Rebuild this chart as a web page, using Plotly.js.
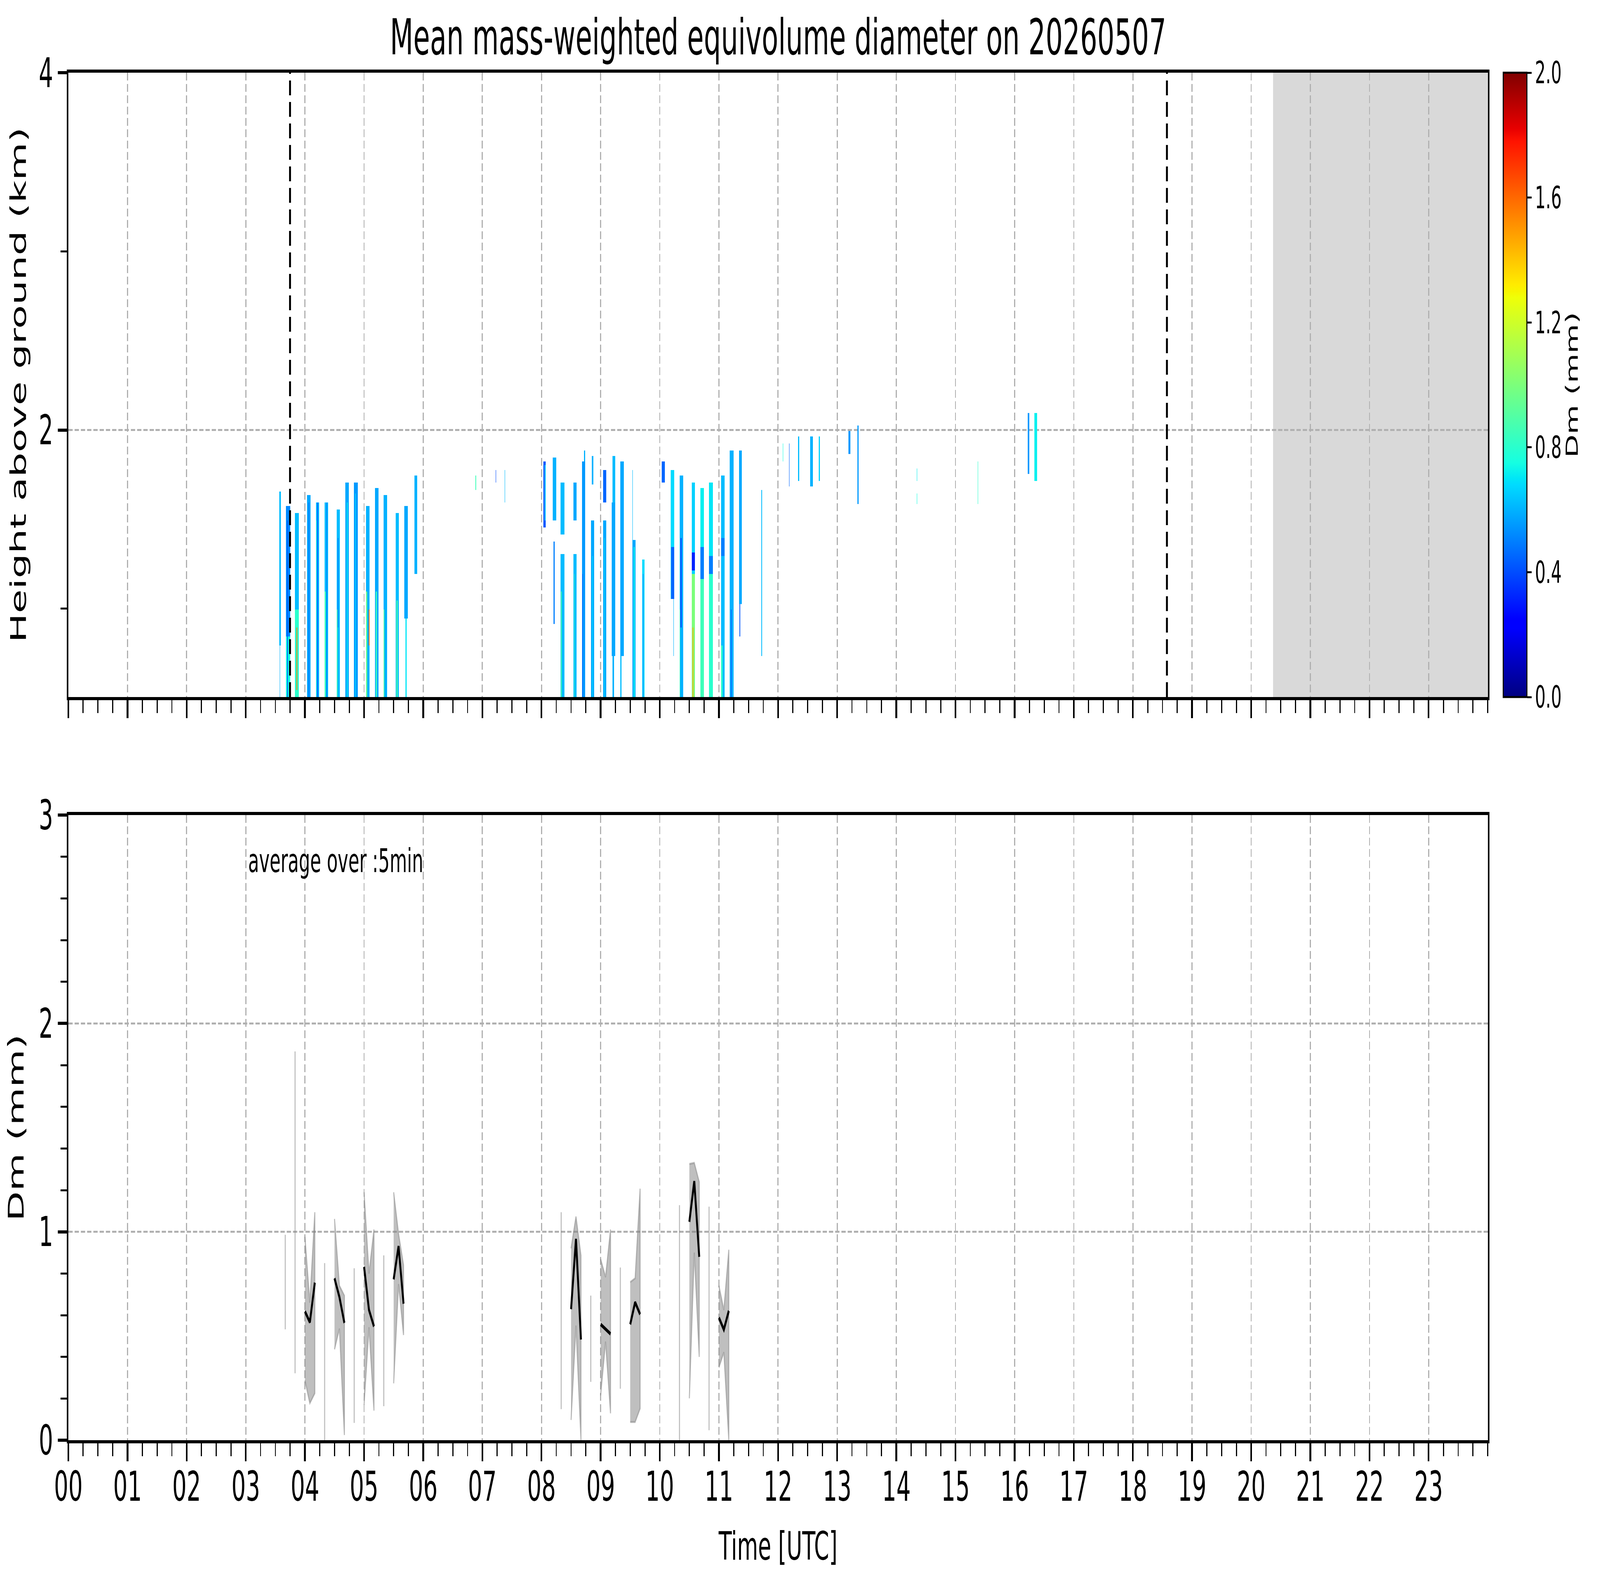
<!DOCTYPE html>
<html>
<head>
<meta charset="utf-8">
<script src="https://cdn.plot.ly/plotly-3.0.1.min.js"></script>
<style>
  html, body { margin: 0; padding: 0; background: #fff; overflow: hidden; }
  #chart { width: 7442px; height: 4031px; transform-origin: 0 0; }
</style>
</head>
<body>
<div id="chart"></div>
<script>
// ── Data ──────────────────────────────────────────────────────────────────────
const hourLabels = ['00', '01', '02', '03', '04', '05', '06', '07', '08', '09', '10', '11',
                    '12', '13', '14', '15', '16', '17', '18', '19', '20', '21', '22', '23'];
const hourTicks = [0, 1, 2, 3, 4, 5, 6, 7, 8, 9, 10, 11, 12, 13, 14, 15, 16, 17, 18, 19, 20, 21, 22, 23];

// dashed markers (hours UTC) and the no-data period
const markerTimes = [3.748, 18.575];
const noDataStart = 20.37;
const dayEnd = 24;

// radar Dm cells: [start h, end h, bottom km, top km, Dm mm]
const radarSegments = [
  [3.565, 3.590, 0.80, 1.66, 0.62], [3.570, 3.580, 0.505, 0.80, 0.60],
  [3.680, 3.750, 0.85, 1.57, 0.52], [3.680, 3.750, 0.505, 0.85, 0.75], [3.700, 3.710, 0.505, 1.50, 0.42],
  [3.830, 3.895, 1.00, 1.53, 0.62], [3.830, 3.895, 0.505, 1.00, 0.80], [3.862, 3.868, 0.55, 0.90, 1.55],
  [4.034, 4.094, 0.505, 1.64, 0.58], [4.060, 4.070, 0.505, 1.60, 0.40],
  [4.183, 4.242, 0.505, 1.60, 0.62], [4.183, 4.195, 0.505, 1.50, 0.80], [4.210, 4.220, 0.505, 1.60, 0.42],
  [4.334, 4.391, 0.505, 1.60, 0.62], [4.334, 4.350, 0.505, 1.10, 0.85], [4.365, 4.372, 0.505, 1.60, 0.40],
  [4.537, 4.591, 0.505, 1.55, 0.62], [4.537, 4.550, 0.505, 1.00, 0.85], [4.555, 4.565, 0.90, 1.40, 0.40],
  [4.685, 4.744, 0.505, 1.71, 0.58], [4.710, 4.720, 0.505, 1.60, 0.72],
  [4.831, 4.894, 0.505, 1.71, 0.55], [4.845, 4.860, 0.505, 1.65, 0.66],
  [5.032, 5.094, 0.505, 1.57, 0.60], [5.032, 5.050, 0.505, 1.10, 0.95], [5.080, 5.090, 0.80, 1.00, 1.60],
  [5.183, 5.243, 0.505, 1.68, 0.58], [5.200, 5.215, 0.505, 1.10, 0.85],
  [5.332, 5.389, 0.505, 1.64, 0.60], [5.332, 5.345, 0.505, 1.00, 0.90],
  [5.537, 5.592, 0.505, 1.53, 0.62], [5.550, 5.570, 0.505, 1.05, 0.88],
  [5.682, 5.742, 0.95, 1.57, 0.58], [5.700, 5.720, 0.505, 0.95, 0.70],
  [5.857, 5.893, 1.20, 1.75, 0.60],
  [6.880, 6.895, 1.67, 1.75, 0.85],
  [7.225, 7.235, 1.71, 1.78, 0.40],
  [7.375, 7.385, 1.60, 1.78, 0.62],
  [8.030, 8.070, 1.46, 1.82, 0.42], [8.050, 8.070, 1.50, 1.80, 0.62],
  [8.190, 8.250, 1.50, 1.85, 0.60], [8.200, 8.220, 0.92, 1.38, 0.50],
  [8.320, 8.390, 1.42, 1.71, 0.62], [8.320, 8.390, 0.505, 1.31, 0.62], [8.330, 8.345, 0.505, 1.10, 0.90],
  [8.540, 8.590, 1.50, 1.71, 0.58], [8.540, 8.590, 0.505, 1.31, 0.62], [8.550, 8.560, 0.505, 1.20, 0.85],
  [8.683, 8.742, 0.505, 1.82, 0.55], [8.720, 8.742, 1.82, 1.89, 0.60], [8.690, 8.700, 0.505, 1.20, 0.40],
  [8.850, 8.875, 1.70, 1.855, 0.60], [8.835, 8.890, 0.505, 1.50, 0.58], [8.860, 8.870, 0.505, 1.30, 0.66],
  [9.040, 9.095, 1.60, 1.78, 0.45], [9.040, 9.095, 0.505, 1.50, 0.58], [9.060, 9.070, 0.505, 1.40, 0.72],
  [9.200, 9.243, 1.59, 1.855, 0.62], [9.186, 9.243, 0.74, 1.59, 0.58], [9.200, 9.225, 0.505, 0.74, 0.60],
  [9.336, 9.391, 0.74, 1.82, 0.58], [9.336, 9.350, 0.505, 0.74, 0.62],
  [9.536, 9.592, 0.505, 1.39, 0.58], [9.560, 9.575, 0.505, 1.35, 0.72], [9.536, 9.545, 1.39, 1.78, 0.62],
  [9.703, 9.746, 0.505, 1.28, 0.68], [9.715, 9.725, 0.505, 1.20, 0.45],
  [10.037, 10.083, 1.71, 1.82, 0.45],
  [10.185, 10.245, 1.06, 1.78, 0.68], [10.190, 10.245, 1.06, 1.35, 0.45], [10.230, 10.240, 0.74, 1.06, 0.60],
  [10.334, 10.393, 0.505, 1.75, 0.60], [10.350, 10.370, 0.90, 1.40, 0.40], [10.334, 10.345, 0.505, 1.00, 0.85],
  [10.538, 10.594, 1.20, 1.71, 0.66], [10.538, 10.594, 0.505, 1.20, 1.00], [10.538, 10.594, 1.22, 1.32, 0.32],
  [10.555, 10.565, 0.505, 0.90, 1.45],
  [10.686, 10.746, 1.35, 1.675, 0.72], [10.686, 10.746, 1.17, 1.35, 0.50], [10.686, 10.746, 0.505, 1.17, 0.85],
  [10.831, 10.894, 1.30, 1.71, 0.70], [10.831, 10.894, 1.20, 1.30, 0.50], [10.831, 10.894, 0.505, 1.20, 0.80],
  [11.035, 11.095, 0.505, 1.75, 0.62], [11.035, 11.060, 0.505, 0.80, 0.80], [11.035, 11.095, 1.30, 1.40, 0.50],
  [11.184, 11.247, 0.505, 1.89, 0.60], [11.200, 11.215, 0.505, 1.00, 0.45],
  [11.341, 11.391, 1.03, 1.89, 0.58], [11.345, 11.360, 0.85, 1.03, 0.42],
  [11.715, 11.730, 0.74, 1.67, 0.62],
  [12.080, 12.090, 1.825, 1.93, 0.75],
  [12.185, 12.195, 1.69, 1.93, 0.45],
  [12.335, 12.360, 1.72, 1.965, 0.62],
  [12.540, 12.590, 1.69, 1.965, 0.60],
  [12.690, 12.710, 1.72, 1.965, 0.66],
  [13.190, 13.220, 1.86, 1.995, 0.55],
  [13.340, 13.360, 1.585, 2.03, 0.55],
  [14.345, 14.355, 1.72, 1.79, 0.72], [14.345, 14.355, 1.585, 1.65, 0.75],
  [15.375, 15.385, 1.585, 1.825, 0.80],
  [16.225, 16.245, 1.755, 2.10, 0.55],
  [16.335, 16.380, 1.72, 2.10, 0.72],
];

// 5-min averaged Dm at the ground (hours UTC, mm)
const dmTime = [3.667, 3.833, 4.000, 4.083, 4.167, 4.333, 4.500, 4.583, 4.667, 4.833,
                5.000, 5.083, 5.167, 5.333, 5.500, 5.583, 5.667, 8.333, 8.500, 8.583,
                8.667, 8.833, 9.000, 9.083, 9.167, 9.333, 9.500, 9.583, 9.667, 10.333,
                10.500, 10.583, 10.667, 10.833, 11.000, 11.083, 11.167];
const dmMean = [0.75, 0.90, 0.618, 0.566, 0.756, 0.45, 0.777, 0.687, 0.563, 0.45,
                0.832, 0.625, 0.546, 0.50, 0.772, 0.931, 0.655, 0.60, 0.629, 0.966,
                0.483, 0.48, 0.556, 0.535, 0.510, 0.52, 0.556, 0.662, 0.604, 0.55,
                1.048, 1.243, 0.880, 0.55, 0.588, 0.531, 0.621];
const dmLow  = [0.532, 0.321, 0.287, 0.177, 0.225, 0.000, 0.436, 0.535, 0.025, 0.083,
                0.170, 0.542, 0.142, 0.163, 0.273, 0.749, 0.505, 0.149, 0.097, 0.550,
                0.000, 0.280, 0.215, 0.473, 0.129, 0.247, 0.087, 0.087, 0.152, 0.000,
                0.201, 0.900, 0.400, 0.048, 0.349, 0.422, 0.000];
const dmHigh = [0.986, 1.866, 0.977, 0.660, 1.094, 0.850, 1.062, 0.742, 0.694, 0.825,
                1.190, 0.800, 1.011, 0.887, 1.190, 0.990, 0.840, 1.094, 0.921, 1.073,
                0.887, 0.694, 0.869, 0.783, 1.011, 0.829, 0.759, 0.777, 1.207, 1.128,
                1.326, 1.331, 1.239, 1.121, 0.742, 0.625, 0.914];

// ── Styling ───────────────────────────────────────────────────────────────────
const FONT = 'DejaVu Sans, sans-serif';
const GRID = { showgrid: true, gridcolor: '#b0b0b0', gridwidth: 5, griddash: '20px,9px' };
const FRAME = { showline: true, mirror: true, linecolor: 'black', linewidth: 8, zeroline: false };

// matplotlib 'jet'
const JET = [
  [0.00, 'rgb(0,0,128)'],   [0.11, 'rgb(0,0,255)'],   [0.125, 'rgb(0,0,255)'],
  [0.34, 'rgb(0,219,255)'], [0.35, 'rgb(0,230,247)'], [0.375, 'rgb(21,255,226)'],
  [0.64, 'rgb(239,255,8)'], [0.65, 'rgb(247,245,0)'], [0.66, 'rgb(255,236,0)'],
  [0.89, 'rgb(255,19,0)'],  [0.91, 'rgb(232,0,0)'],   [1.00, 'rgb(128,0,0)'],
];

// ── Radar grid built from the segments ───────────────────────────────────────
const DT = 1 / 200, DH = 0.01;
const T0 = 3.5, T1 = 16.5, H0 = 0.505, H1 = 2.12;
const nx = Math.round((T1 - T0) / DT), ny = Math.ceil((H1 - H0) / DH);
const gx = Array.from({ length: nx }, (_, i) => T0 + (i + 0.5) * DT);
const gy = Array.from({ length: ny }, (_, j) => H0 + (j + 0.5) * DH);
const gz = gy.map(() => new Array(nx).fill(null));
radarSegments.forEach(([t0, t1, hb, ht, v]) => {
  for (let i = 0; i < nx; i++) {
    if (gx[i] < t0 || gx[i] >= t1) continue;
    for (let j = 0; j < ny; j++) {
      if (gy[j] >= hb && gy[j] < ht) gz[j][i] = v;
    }
  }
});

// ── Ground Dm: split into 5-min contiguous runs ──────────────────────────────
const lineX = [], lineY = [], bandX = [], bandY = [];
let run = [];
function flushRun() {
  if (!run.length) return;
  run.forEach(k => { lineX.push(dmTime[k]); lineY.push(dmMean[k]); });
  lineX.push(null); lineY.push(null);
  run.forEach(k => { bandX.push(dmTime[k]); bandY.push(dmHigh[k]); });
  run.slice().reverse().forEach(k => { bandX.push(dmTime[k]); bandY.push(dmLow[k]); });
  bandX.push(null); bandY.push(null);
  run = [];
}
dmTime.forEach((t, k) => {
  if (run.length && t - dmTime[run[run.length - 1]] > 0.09) flushRun();
  run.push(k);
});
flushRun();

const traces = [
  {
    type: 'heatmap', x: gx, y: gy, z: gz, xaxis: 'x', yaxis: 'y',
    colorscale: JET, zmin: 0, zmax: 2, zsmooth: false, hoverinfo: 'skip',
    colorbar: {
      x: 1.0109, xanchor: 'left', xpad: 0,
      y: 0.7717, yanchor: 'middle', ypad: 0,
      lenmode: 'pixels', len: 1598, thickness: 110,
      outlinewidth: 5, outlinecolor: 'black',
      tickmode: 'linear', tick0: 0, dtick: 0.4, tickformat: '.1f',
      ticks: 'outside', ticklen: 20, tickwidth: 5, tickcolor: 'black',
      tickfont: { family: FONT, size: 78, color: 'black' },
      title: { text: 'Dm (mm)', side: 'right', font: { family: FONT, size: 78, color: 'black' } },
    },
  },
  {
    type: 'scatter', mode: 'lines', x: bandX, y: bandY, xaxis: 'x2', yaxis: 'y2',
    fill: 'toself', fillcolor: 'rgba(128,128,128,0.5)',
    line: { color: 'rgba(128,128,128,0.5)', width: 5 }, hoverinfo: 'skip',
  },
  {
    type: 'scatter', mode: 'lines', x: lineX, y: lineY, xaxis: 'x2', yaxis: 'y2',
    line: { color: 'black', width: 9 }, connectgaps: false, hoverinfo: 'skip',
  },
];

const xCommon = {
  ...FRAME, ...GRID,
  range: [0, dayEnd],
  tickmode: 'array', tickvals: hourTicks, ticktext: hourLabels,
  ticks: 'outside', ticklen: 46, tickwidth: 8, tickcolor: 'black',
  minor: { tickmode: 'linear', tick0: 0, dtick: 0.25, ticks: 'outside', ticklen: 33, tickwidth: 5, tickcolor: 'black', showgrid: false },
  tickfont: { family: FONT, size: 105, color: 'black' },
};

const shapes = [
  {
    type: 'rect', xref: 'x', yref: 'y domain', x0: noDataStart, x1: dayEnd, y0: 0, y1: 1,
    fillcolor: '#d9d9d9', line: { width: 0 }, layer: 'below',
  },
  ...markerTimes.map(t => ({
    type: 'line', xref: 'x', yref: 'y domain', x0: t, x1: t, y0: 0, y1: 1,
    line: { color: 'black', width: 9, dash: '38px,17px' }, layer: 'above',
  })),
];

const layout = {
  width: 7442, height: 4031,
  margin: { l: 318, r: 522, t: 186, b: 345 },
  paper_bgcolor: 'white', plot_bgcolor: 'white',
  showlegend: false,
  font: { family: FONT, color: 'black' },
  title: {
    text: 'Mean mass-weighted equivolume diameter on 20260507',
    font: { family: FONT, size: 126, color: 'black' },
    xref: 'paper', x: 0.5, xanchor: 'center',
    yref: 'container', y: 0.9765, yanchor: 'middle',
  },
  xaxis: { ...xCommon, domain: [0, 1], anchor: 'y', showticklabels: false },
  yaxis: {
    ...FRAME, ...GRID, domain: [0.5434, 1], anchor: 'x',
    range: [0.505, 4],
    tickmode: 'array', tickvals: [2, 4],
    ticks: 'outside', ticklen: 42, tickwidth: 8, tickcolor: 'black',
    minor: { tickmode: 'linear', tick0: 0, dtick: 1, ticks: 'outside', ticklen: 29, tickwidth: 5, tickcolor: 'black', showgrid: false },
    tickfont: { family: FONT, size: 105, color: 'black' },
    title: { text: 'Height above ground (km)', standoff: 30, font: { family: FONT, size: 100, color: 'black' } },
  },
  xaxis2: {
    ...xCommon, domain: [0, 1], anchor: 'y2', matches: 'x',
    ticklabelstandoff: -25,
    title: { text: 'Time [UTC]', standoff: 60, font: { family: FONT, size: 100, color: 'black' } },
  },
  yaxis2: {
    ...FRAME, ...GRID, domain: [0, 0.4571], anchor: 'x2',
    range: [0, 3],
    tickmode: 'array', tickvals: [0, 1, 2, 3],
    ticks: 'outside', ticklen: 42, tickwidth: 8, tickcolor: 'black',
    minor: { tickmode: 'linear', tick0: 0, dtick: 0.2, ticks: 'outside', ticklen: 29, tickwidth: 5, tickcolor: 'black', showgrid: false },
    tickfont: { family: FONT, size: 105, color: 'black' },
    title: { text: 'Dm (mm)', standoff: 40, font: { family: FONT, size: 100, color: 'black' } },
  },
  annotations: [{
    xref: 'x2', yref: 'y2', x: 3.03, y: 2.78, xanchor: 'left', yanchor: 'middle',
    text: 'average over :5min', showarrow: false,
    font: { family: FONT, size: 83, color: 'black' },
  }],
  shapes,
};

// the window can be narrower than the figure (it is clamped to 4096 px wide):
// draw at full size and scale the whole figure to fill the viewport
const chartEl = document.getElementById('chart');
const vw = window.innerWidth || 7442, vh = window.innerHeight || 4031;
if (vw < 7442 || vh < 4031) {
  chartEl.style.transform = `scale(${Math.min(1, vw / 7442)}, ${Math.min(1, vh / 4031)})`;
}

Plotly.newPlot(chartEl, traces, layout, { staticPlot: true });
</script>
</body>
</html>
